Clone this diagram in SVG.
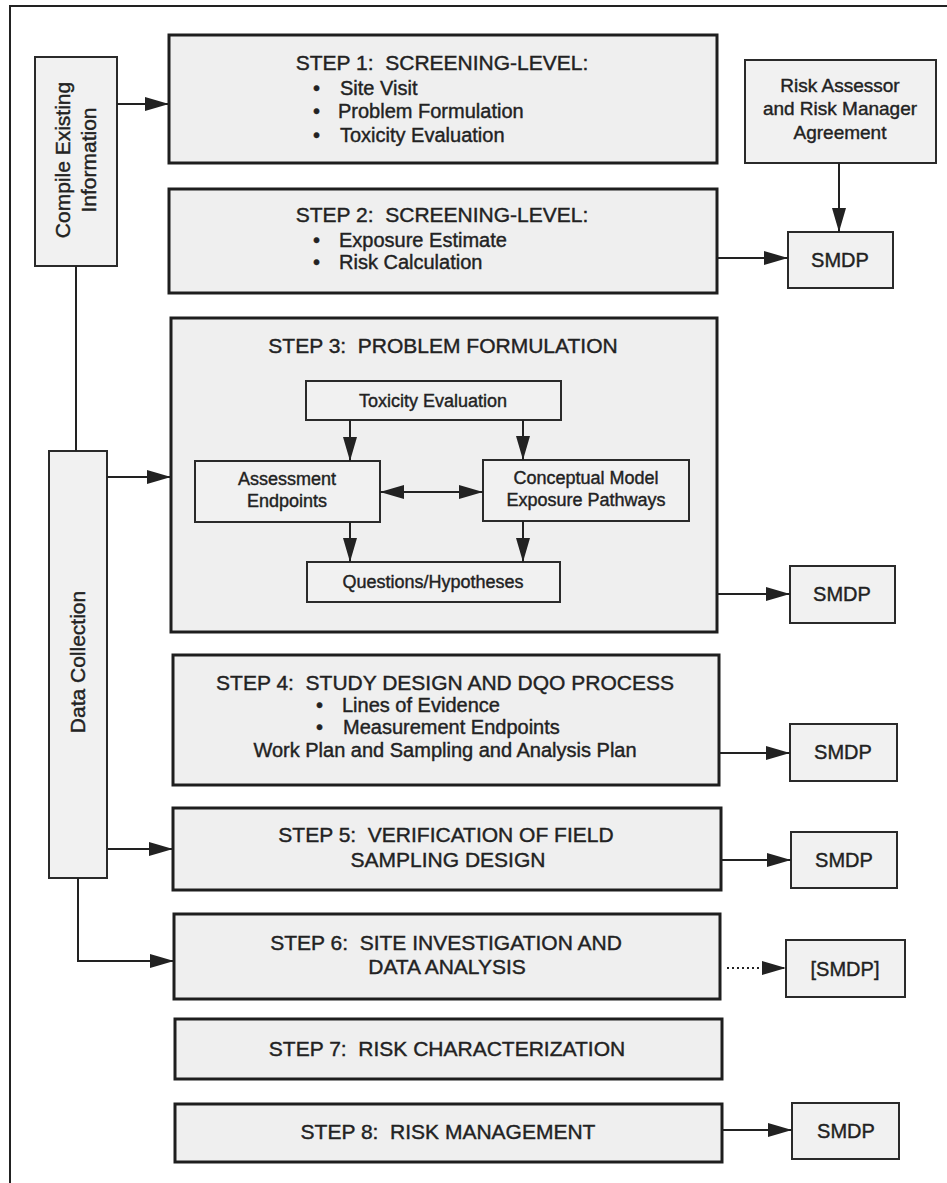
<svg xmlns="http://www.w3.org/2000/svg" width="947" height="1183" viewBox="0 0 947 1183">
<style>
.step{fill:#efefef;stroke:#1e1e1e;stroke-width:3}
.box{fill:#f1f1f1;stroke:#2a2a2a;stroke-width:2}
.t{font-family:"Liberation Sans",Arial,Helvetica,sans-serif;fill:#222;stroke:#222;stroke-width:0.4;white-space:pre}
.title{font-size:21px;text-anchor:middle}
.body{font-size:20px}
.mid{text-anchor:middle}
.small{font-size:18px;text-anchor:middle}
.smdp{font-size:20px;text-anchor:middle}
.ra{font-size:19px;text-anchor:middle}
.conn{fill:none;stroke:#222;stroke-width:2}
.dot{stroke-dasharray:2 3}
</style>
<defs>
<marker id="ah" markerUnits="userSpaceOnUse" markerWidth="24" markerHeight="14" refX="24" refY="7" orient="auto-start-reverse" viewBox="0 0 24 14">
<path d="M0,0 L24,7 L0,14 z" fill="#222"/>
</marker>
</defs>
<rect x="0" y="0" width="947" height="1183" fill="#ffffff"/>
<path d="M10,1183 V6 H947" fill="none" stroke="#222" stroke-width="2"/>

<g id="compile">
<rect class="box" x="35" y="57" width="82" height="209"/>
<text class="t title" transform="translate(70,160) rotate(-90)">Compile Existing</text>
<text class="t title" transform="translate(96,160) rotate(-90)">Information</text>
</g>

<g id="datacollection">
<rect class="box" x="49" y="451" width="58" height="427"/>
<text class="t title" transform="translate(85,662) rotate(-90)">Data Collection</text>
</g>

<g id="step1">
<rect class="step" x="169" y="35" width="548" height="128"/>
<text class="t title" x="442" y="70">STEP 1:  SCREENING-LEVEL:</text>
<text class="t body" x="313" y="95">•</text><text class="t body" x="340" y="95">Site Visit</text>
<text class="t body" x="313" y="118">•</text><text class="t body" x="338" y="118">Problem Formulation</text>
<text class="t body" x="313" y="142">•</text><text class="t body" x="340" y="142">Toxicity Evaluation</text>
</g>

<g id="riskassessor">
<rect class="box" x="745" y="60" width="191" height="103"/>
<text class="t ra" x="840" y="92">Risk Assessor</text>
<text class="t ra" x="840" y="115">and Risk Manager</text>
<text class="t ra" x="840" y="139">Agreement</text>
</g>

<g id="step2">
<rect class="step" x="169" y="189" width="548" height="104"/>
<text class="t title" x="442" y="222">STEP 2:  SCREENING-LEVEL:</text>
<text class="t body" x="313" y="247">•</text><text class="t body" x="339" y="247">Exposure Estimate</text>
<text class="t body" x="313" y="269">•</text><text class="t body" x="339" y="269">Risk Calculation</text>
</g>

<g id="smdp1">
<rect class="box" x="788" y="232" width="105" height="56"/>
<text class="t smdp" x="840" y="267">SMDP</text>
</g>

<g id="step3">
<rect class="step" x="171" y="318" width="546" height="314"/>
<text class="t title" x="443" y="353">STEP 3:  PROBLEM FORMULATION</text>
</g>

<g id="toxicity">
<rect class="box" x="306" y="381" width="255" height="39"/>
<text class="t small" x="433" y="407">Toxicity Evaluation</text>
</g>

<g id="assessment">
<rect class="box" x="195" y="461" width="185" height="61"/>
<text class="t small" x="287" y="485">Assessment</text>
<text class="t small" x="287" y="507">Endpoints</text>
</g>

<g id="conceptual">
<rect class="box" x="483" y="460" width="206" height="61"/>
<text class="t small" x="586" y="484">Conceptual Model</text>
<text class="t small" x="586" y="506">Exposure Pathways</text>
</g>

<g id="questions">
<rect class="box" x="307" y="562" width="253" height="40"/>
<text class="t small" x="433" y="588">Questions/Hypotheses</text>
</g>

<g id="smdp2">
<rect class="box" x="790" y="566" width="105" height="57"/>
<text class="t smdp" x="842" y="601">SMDP</text>
</g>

<g id="step4">
<rect class="step" x="173" y="655" width="546" height="130"/>
<text class="t title" x="445" y="690">STEP 4:  STUDY DESIGN AND DQO PROCESS</text>
<text class="t body" x="316" y="712">•</text><text class="t body" x="342" y="712">Lines of Evidence</text>
<text class="t body" x="316" y="734">•</text><text class="t body" x="343" y="734">Measurement Endpoints</text>
<text class="t body mid" x="445" y="757">Work Plan and Sampling and Analysis Plan</text>
</g>

<g id="smdp3">
<rect class="box" x="790" y="724" width="107" height="57"/>
<text class="t smdp" x="843" y="759">SMDP</text>
</g>

<g id="step5">
<rect class="step" x="173" y="808" width="548" height="82"/>
<text class="t title" x="446" y="842">STEP 5:  VERIFICATION OF FIELD</text>
<text class="t title" x="448" y="867">SAMPLING DESIGN</text>
</g>

<g id="smdp4">
<rect class="box" x="791" y="832" width="106" height="56"/>
<text class="t smdp" x="844" y="867">SMDP</text>
</g>

<g id="step6">
<rect class="step" x="174" y="914" width="546" height="85"/>
<text class="t title" x="446" y="950">STEP 6:  SITE INVESTIGATION AND</text>
<text class="t title" x="447" y="974">DATA ANALYSIS</text>
</g>

<g id="smdp6">
<rect class="box" x="786" y="940" width="119" height="57"/>
<text class="t smdp" x="845" y="976">[SMDP]</text>
</g>

<g id="step7">
<rect class="step" x="175" y="1019" width="547" height="60"/>
<text class="t title" x="447" y="1056">STEP 7:  RISK CHARACTERIZATION</text>
</g>

<g id="step8">
<rect class="step" x="175" y="1104" width="547" height="58"/>
<text class="t title" x="448" y="1139">STEP 8:  RISK MANAGEMENT</text>
</g>

<g id="smdp8">
<rect class="box" x="792" y="1103" width="107" height="56"/>
<text class="t smdp" x="846" y="1138">SMDP</text>
</g>

<g id="connectors">
<path class="conn" d="M117,104 H169" marker-end="url(#ah)"/>
<path class="conn" d="M76,266 V451"/>
<path class="conn" d="M107,477 H171" marker-end="url(#ah)"/>
<path class="conn" d="M108,849 H173" marker-end="url(#ah)"/>
<path class="conn" d="M78,878 V961 H174" marker-end="url(#ah)"/>
<path class="conn" d="M839,163 V232" marker-end="url(#ah)"/>
<path class="conn" d="M717,258 H788" marker-end="url(#ah)"/>
<path class="conn" d="M350,420 V461" marker-end="url(#ah)"/>
<path class="conn" d="M523,420 V460" marker-end="url(#ah)"/>
<path class="conn" d="M380,492 H483" marker-start="url(#ah)" marker-end="url(#ah)"/>
<path class="conn" d="M350,522 V562" marker-end="url(#ah)"/>
<path class="conn" d="M523,521 V562" marker-end="url(#ah)"/>
<path class="conn" d="M717,594 H790" marker-end="url(#ah)"/>
<path class="conn" d="M719,753 H790" marker-end="url(#ah)"/>
<path class="conn" d="M721,860 H791" marker-end="url(#ah)"/>
<path class="conn dot" d="M727,968 H786" marker-end="url(#ah)"/>
<path class="conn" d="M722,1130 H792" marker-end="url(#ah)"/>
</g>
</svg>
